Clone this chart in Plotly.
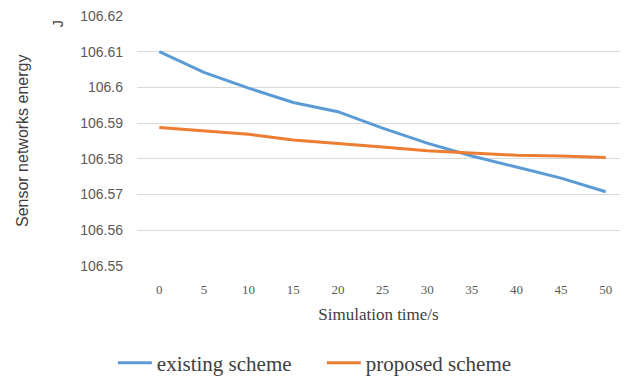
import plotly.graph_objects as go

time_s = [0, 5, 10, 15, 20, 25, 30, 35, 40, 45, 50]
existing = [106.6100, 106.6042, 106.5998, 106.5958, 106.5932, 106.5886,
            106.5844, 106.5808, 106.5777, 106.5746, 106.5708]
proposed = [106.5888, 106.5879, 106.5869, 106.5853, 106.5844, 106.5833,
            106.5823, 106.5816, 106.5810, 106.5808, 106.5804]
y_ticks = [106.55, 106.56, 106.57, 106.58, 106.59, 106.6, 106.61, 106.62]
y_tick_text = ["106.55", "106.56", "106.57", "106.58", "106.59", "106.6", "106.61", "106.62"]

serif = "Liberation Serif"
sans = "Liberation Sans"
tick_col = "#595959"

fig = go.Figure()
fig.add_trace(go.Scatter(x=time_s, y=existing, mode="lines", name="existing scheme",
                         line=dict(color="#5b9bd5", width=3)))
fig.add_trace(go.Scatter(x=time_s, y=proposed, mode="lines", name="proposed scheme",
                         line=dict(color="#ed7d31", width=3)))

fig.update_layout(
    width=634, height=376,
    margin=dict(l=137, r=14, t=16, b=110, autoexpand=False),
    paper_bgcolor="white", plot_bgcolor="white",
    showlegend=True,
    legend=dict(orientation="h", x=-0.05, xanchor="left", y=-0.388, yanchor="middle",
                font=dict(family=serif, size=21, color="#404040"),
                itemwidth=34, tracegroupgap=0, entrywidth=160, entrywidthmode="pixels"),
    xaxis=dict(range=[-2.5, 51.6], tickmode="array", tickvals=time_s,
               ticktext=[str(t) for t in time_s], showgrid=False, zeroline=False,
               showline=False, ticks="", ticklabelstandoff=14,
               tickfont=dict(family=serif, size=13, color=tick_col),
               title=dict(text="Simulation time/s", standoff=12,
                          font=dict(family=serif, size=17, color="#404040"))),
    yaxis=dict(range=[106.55, 106.62], tickmode="array", tickvals=y_ticks,
               ticktext=y_tick_text, showgrid=True, gridcolor="#d9d9d9", gridwidth=1,
               zeroline=False, showline=False, ticks="", ticklabelstandoff=13,
               tickfont=dict(family=sans, size=14, color=tick_col)),
    annotations=[
        dict(text="Sensor networks energy", xref="paper", yref="paper",
             x=-0.238, y=0.5, xanchor="center", yanchor="middle", textangle=-90,
             showarrow=False, font=dict(family=sans, size=16, color="#404040")),
        dict(text="J", xref="paper", yref="paper",
             x=-0.163, y=0.968, xanchor="center", yanchor="middle", textangle=-90,
             showarrow=False, font=dict(family=sans, size=14, color="#404040")),
    ],
)

fig.write_html("out.html")
